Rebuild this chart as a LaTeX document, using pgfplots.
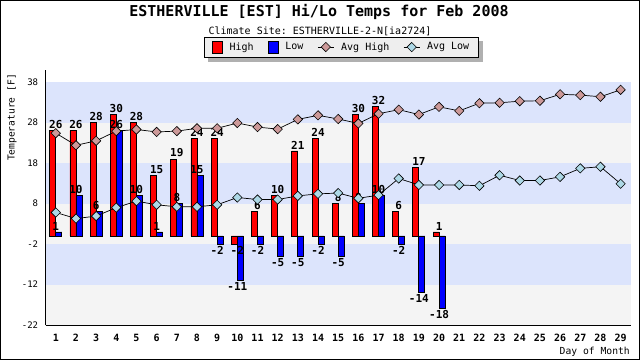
\documentclass[border=0pt]{standalone}
\usepackage{pgfplots}
\pgfplotsset{compat=1.18}
\usepackage{fontspec}
\setmonofont{DejaVu Sans Mono}
\pgfdeclarelayer{background}
\pgfsetlayers{background,main}
\definecolor{bandblue}{RGB}{220,228,252}
\definecolor{bandgray}{RGB}{244,244,244}
\definecolor{gridgray}{RGB}{221,221,221}
\definecolor{avghi}{RGB}{204,153,153}
\definecolor{avglo}{RGB}{173,216,230}
\definecolor{legfill}{RGB}{238,238,238}
\definecolor{shadowgray}{RGB}{176,176,176}
\pgfplotsset{
  barleg/.style={legend image code/.code={\draw[##1] (0pt,-6pt) rectangle (10pt,6pt);}},
  lineleg/.style={legend image code/.code={\draw[mark repeat=2,mark phase=2,##1] plot coordinates {(0pt,0pt)(8pt,0pt)(16pt,0pt)};}},
  barlabels/.style={
    nodes near coords={\pgfmathprintnumber[assume math mode=true]{\pgfplotspointmeta}},
    nodes near coords align={vertical},
    every node near coord/.append style={font=\ttfamily\bfseries\fontsize{11}{12}\selectfont, black, inner sep=1.5pt}},
}
\begin{document}
\begin{tikzpicture}[x=1pt,y=1pt]
\useasboundingbox (0,0) rectangle (640,360);
\begin{pgfonlayer}{background}
\fill[white] (0,0) rectangle (640,360);
\end{pgfonlayer}
\begin{axis}[
  at={(45.7pt,35pt)}, anchor=south west,
  width=585pt, height=255pt, scale only axis,
  xmin=0.5, xmax=29.5, ymin=-22, ymax=41,
  axis lines*=left,
  axis line style={black, line width=1.2pt},
  tick align=inside,
  xtick={1,...,29},
  major x tick style={draw=none},
  minor xtick={0.5,1.5,...,29.5},
  minor x tick style={black, line width=0.8pt},
  minor tick length=5pt,
  xminorgrids=true,
  ytick={-22,-12,...,38},
  minor ytick={-17,-7,...,33},
  major tick length=5pt,
  ymajorgrids=true,
  grid style={gridgray, line width=0.9pt},
  minor grid style={gridgray, line width=0.9pt},
  y tick style={black, line width=0.8pt},
  /pgf/number format/assume math mode=true,
  xticklabel style={font=\ttfamily\bfseries\fontsize{10}{12}\selectfont, yshift=-6pt},
  yticklabel style={font=\ttfamily\fontsize{9}{11}\selectfont, xshift=-4pt},
  clip=false,
  legend style={name=leg, at={(0.5056,1.09)}, anchor=center, draw=black, line width=0.8pt,
    fill=legfill, font=\ttfamily\fontsize{10}{12}\selectfont,
    legend columns=4, inner xsep=7pt, inner ysep=3.5pt,
    /tikz/every odd column/.append style={column sep=5pt},
    /tikz/every even column/.append style={column sep=12pt}},
]
% background bands
\fill[white] (axis cs:0.5,38) rectangle (axis cs:29.5,41);
\fill[bandblue] (axis cs:0.5,28) rectangle (axis cs:29.5,38);
\fill[bandgray] (axis cs:0.5,18) rectangle (axis cs:29.5,28);
\fill[bandblue] (axis cs:0.5,8) rectangle (axis cs:29.5,18);
\fill[bandgray] (axis cs:0.5,-2) rectangle (axis cs:29.5,8);
\fill[bandblue] (axis cs:0.5,-12) rectangle (axis cs:29.5,-2);
\fill[bandgray] (axis cs:0.5,-22) rectangle (axis cs:29.5,-12);

\addplot[ybar, bar width=6pt, bar shift=-3pt, fill=red, draw=black, line width=0.8pt,
  area legend, barleg, barlabels]
coordinates {(1,26)(2,26)(3,28)(4,30)(5,28)(6,15)(7,19)(8,24)(9,24)(10,-2)
(11,6)(12,10)(13,21)(14,24)(15,8)(16,30)(17,32)(18,6)(19,17)(20,1)};
\addlegendentry{High}

\addplot[ybar, bar width=6pt, bar shift=3pt, fill=blue, draw=black, line width=0.8pt,
  area legend, barleg, barlabels]
coordinates {(1,1)(2,10)(3,6)(4,26)(5,10)(6,1)(7,8)(8,15)(9,-2)(10,-11)
(11,-2)(12,-5)(13,-5)(14,-2)(15,-5)(16,8)(17,10)(18,-2)(19,-14)(20,-18)};
\addlegendentry{Low}

\addplot[black, line width=0.7pt, mark=square*, mark size=3.3pt,
  mark options={rotate=45, fill=avghi, draw=black, line width=0.6pt}, lineleg]
coordinates {(1,25.4)(2,22.4)(3,23.5)(4,25.9)(5,26.3)(6,25.7)(7,25.9)(8,26.6)(9,26.6)(10,27.9)
(11,26.9)(12,26.4)(13,28.8)(14,29.8)(15,28.9)(16,27.8)(17,30.2)(18,31.2)(19,30.0)(20,31.9)
(21,30.9)(22,32.8)(23,32.9)(24,33.3)(25,33.4)(26,35.0)(27,34.8)(28,34.4)(29,36.1)};
\addlegendentry{Avg High}

\addplot[black, line width=0.7pt, mark=square*, mark size=3.3pt,
  mark options={rotate=45, fill=avglo, draw=black, line width=0.6pt}, lineleg]
coordinates {(1,5.8)(2,4.3)(3,4.9)(4,7.0)(5,8.6)(6,7.7)(7,7.2)(8,7.2)(9,7.7)(10,9.5)
(11,9.0)(12,9.0)(13,9.9)(14,10.4)(15,10.6)(16,9.3)(17,10.1)(18,14.2)(19,12.6)(20,12.6)
(21,12.6)(22,12.4)(23,15.0)(24,13.7)(25,13.7)(26,14.6)(27,16.7)(28,17.1)(29,12.9)};
\addlegendentry{Avg Low}
\end{axis}
\begin{pgfonlayer}{background}
\fill[shadowgray] ([shift={(4pt,-4pt)}]leg.south west) rectangle ([shift={(4pt,-4pt)}]leg.north east);
\end{pgfonlayer}
\node[font=\ttfamily\bfseries\fontsize{15}{18}\selectfont] at (319,348) {ESTHERVILLE [EST] Hi/Lo Temps for Feb 2008};
\node[font=\ttfamily\fontsize{10}{12}\selectfont] at (320,329) {Climate Site: ESTHERVILLE-2-N[ia2724]};
\node[font=\ttfamily\fontsize{9.6}{11}\selectfont, rotate=90, anchor=east, inner sep=0pt] at (12,286) {Temperature [F]};
\node[font=\ttfamily\fontsize{9.7}{11}\selectfont, anchor=east, inner sep=0pt] at (630,8) {Day of Month};
\draw[black, line width=1pt] (0.5,0.5) rectangle (639.5,359.5);
\end{tikzpicture}
\end{document}
